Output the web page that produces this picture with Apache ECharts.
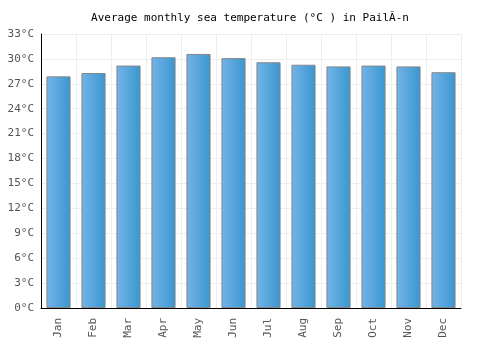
<!DOCTYPE html>
<html>
<head>
<meta charset="utf-8">
<script src="https://cdn.jsdelivr.net/npm/echarts@6/dist/echarts.min.js"></script>
<style>
html,body{margin:0;padding:0;background:#fff;}
#chart{width:500px;height:350px;}
</style>
</head>
<body>
<div id="chart"></div>
<script>
// monthly sea temperature, °C
var months = ['Jan','Feb','Mar','Apr','May','Jun','Jul','Aug','Sep','Oct','Nov','Dec'];
var seaTemp = [27.9, 28.3, 29.2, 30.2, 30.6, 30.1, 29.6, 29.3, 29.1, 29.2, 29.1, 28.4];
var yTicks = [0, 3, 6, 9, 12, 15, 18, 21, 24, 27, 30, 33];

var mono = '"DejaVu Sans Mono", monospace';
var mychart = echarts.init(document.getElementById('chart'));
var option = {
	animation: false,
	title: {
		text: 'Average monthly sea temperature (°C ) in PailÃ-n',
		left: 'center',
		top: 8,
		textStyle: {
			fontFamily: mono,
			fontSize: 11,
			fontWeight: 'normal',
			color: '#000'
		}
	},
	grid: {
		left: 41,
		right: 39,
		top: 34,
		bottom: 42
	},
	xAxis: {
		type: 'category',
		data: months,
		axisLine: {lineStyle: {color: '#000', width: 1}},
		axisTick: {show: false},
		splitLine: {show: true, interval: 0, lineStyle: {color: '#eeeeee'}},
		axisLabel: {
			rotate: 90,
			interval: 0,
			margin: 10,
			fontFamily: mono,
			fontSize: 11,
			color: '#555'
		}
	},
	yAxis: {
		type: 'value',
		min: yTicks[0],
		max: yTicks[yTicks.length - 1],
		interval: 3,
		axisLine: {show: true, lineStyle: {color: '#000', width: 1}},
		axisTick: {show: false},
		splitLine: {lineStyle: {color: '#eeeeee'}},
		axisLabel: {
			formatter: '{value}°C',
			margin: 7,
			fontFamily: mono,
			fontSize: 11,
			color: '#555'
		}
	},
	series: [{
		type: 'bar',
		data: seaTemp,
		barCategoryGap: '31%',
		itemStyle: {
			borderColor: '#888',
			borderWidth: 1,
			color: new echarts.graphic.LinearGradient(0, 0, 1, 0, [
				{offset: 0, color: '#74b4e8'},
				{offset: 1, color: '#3996cf'}
			])
		}
	}]
};
mychart.setOption(option);
</script>
</body>
</html>
